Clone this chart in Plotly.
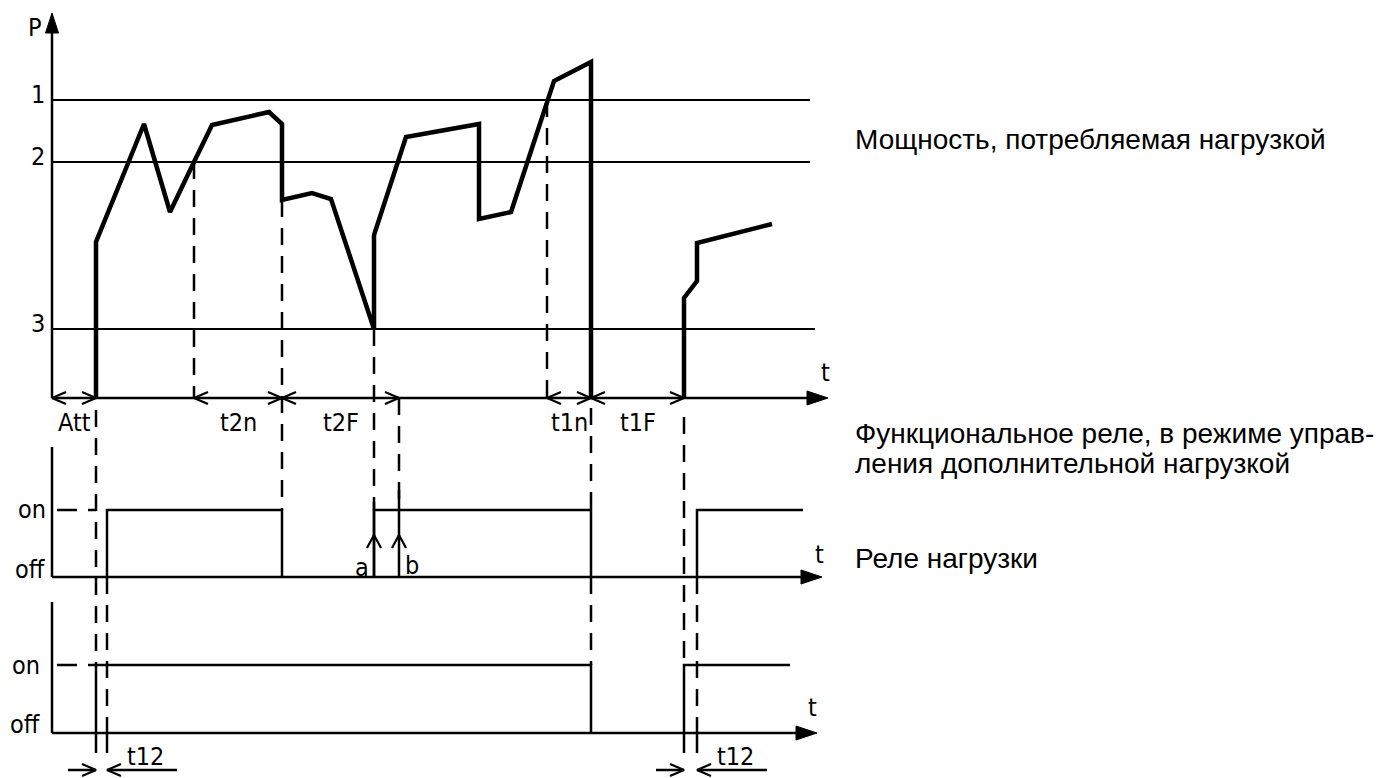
import plotly.graph_objects as go

# ---------------- data (time units, P units) ----------------
# power consumed by the load: two pieces (before and after switch-off)
power_t_a = [44, 44, 92, 118, 142, 160, 217, 230, 230, 260, 279, 322, 322, 354, 427, 427, 459, 495, 502, 539, 539]
power_p_a = [0, 156, 274, 186, 236, 273, 286, 274, 198, 205, 199, 69, 163, 261, 274, 179, 186, 298, 317, 336, 0]
power_t_b = [632, 632, 645, 645, 720]
power_p_b = [0, 100, 117, 155, 174]

level_names = ["1", "2", "3"]
level_values = [298, 236, 69]
level_ends = [758, 758, 763]

# relay on-intervals
relay1_on_start = [55, 322, 645]
relay1_on_end = [230, 539, 751]
relay2_on_start = [44, 632]
relay2_on_end = [539, 738]

# dimensioned intervals on the time axis
dim_names = ["Att", "t2n", "t2F", "t1n", "t1F"]
dim_start = [0, 142, 230, 495, 539]
dim_end = [44, 230, 347, 539, 632]

# events
t_att = 44
t_a = 322
t_b = 347
t12_pairs = [(44, 55), (632, 645)]

right_texts = ["Мощность, потребляемая нагрузкой",
               "Функциональное реле, в режиме управ-",
               "ления дополнительной нагрузкой",
               "Реле нагрузки"]

# ---------------- layout constants ----------------
R1_OFF, R1_ON = -179, -112
R2_OFF, R2_ON = -335, -267
P_TOP = 385
T_END = 776
R1_END, R2_END = 770, 765
R1_TOP, R2_TOP = -49, -204
BOT = -355

DASH = "17px,11px"
BLACK = "black"
FD = "DejaVu Sans Condensed, DejaVu Sans, sans-serif"
FT = "Liberation Sans, Arial, sans-serif"

fig = go.Figure()


def lines(segs, width=2.5, dash=None):
    xs, ys = [], []
    for (x0, y0, x1, y1) in segs:
        xs += [x0, x1, None]
        ys += [y0, y1, None]
    fig.add_trace(go.Scatter(x=xs, y=ys, mode="lines", hoverinfo="skip",
                             line=dict(color=BLACK, width=width, dash=dash)))


def chevrons(items, L=14, W=6, width=2.2):
    # items: (tipx, tipy, dx, dy)
    xs, ys = [], []
    for (x, y, dx, dy) in items:
        nx, ny = -dy, dx
        xs += [x - L * dx + W * nx, x, x - L * dx - W * nx, None]
        ys += [y - L * dy + W * ny, y, y - L * dy - W * ny, None]
    fig.add_trace(go.Scatter(x=xs, y=ys, mode="lines", hoverinfo="skip",
                             line=dict(color=BLACK, width=width)))


def filled_head(x, y, dx, dy, L=20, W=6.5):
    nx, ny = -dy, dx
    xs = [x, x - L * dx + W * nx, x - L * dx - W * nx, x]
    ys = [y, y - L * dy + W * ny, y - L * dy - W * ny, y]
    fig.add_trace(go.Scatter(x=xs, y=ys, mode="lines", fill="toself", fillcolor=BLACK,
                             hoverinfo="skip", line=dict(color=BLACK, width=1)))


# ---- axes ----
lines([(0, 0, 0, P_TOP - 10), (0, 0, T_END - 10, 0),
       (0, R1_OFF, 0, R1_TOP), (0, R1_OFF, R1_END - 10, R1_OFF),
       (0, R2_OFF, 0, R2_TOP), (0, R2_OFF, R2_END - 10, R2_OFF)], width=2.5)
filled_head(0, P_TOP, 0, 1)
filled_head(T_END, 0, 1, 0, L=21, W=7)
filled_head(R1_END, R1_OFF, 1, 0, L=21, W=7)
filled_head(R2_END, R2_OFF, 1, 0, L=21, W=7)

# ---- threshold levels ----
lines([(1, v, e, v) for v, e in zip(level_values, level_ends)], width=2.2)

# ---- dashed extension lines ----
p_after_drop = power_p_a[power_t_a.index(230) + 1]
dashed = [
    (t_att, -12, t_att, R2_ON),
    (t12_pairs[0][1], R1_OFF, t12_pairs[0][1], R2_OFF),
    (142, level_values[1], 142, 0),
    (230, p_after_drop, 230, R1_ON),
    (t_a, level_values[2], t_a, R1_ON),
    (t_b, 0, t_b, R1_ON),
    (495, level_values[0], 495, 0),
    (539, -10, 539, R1_ON),
    (539, R1_OFF, 539, R2_ON),
    (632, -19, 632, R2_ON),
    (t12_pairs[1][1], R1_OFF, t12_pairs[1][1], R2_OFF),
]
lines(dashed, width=2.5, dash=DASH)
# on-level reference dashes
lines([(5, R1_ON, t_att, R1_ON), (5, R2_ON, t_att, R2_ON)], width=2.5, dash="20px,11px")

# ---- power curve ----
for tt, pp in [(power_t_a, power_p_a), (power_t_b, power_p_b)]:
    fig.add_trace(go.Scatter(x=tt, y=pp, mode="lines", hoverinfo="skip",
                             line=dict(color=BLACK, width=4.5)))

# ---- relay waveforms ----
def relay_path(starts, ends, off, on):
    xs, ys = [], []
    for s, e in zip(starts, ends):
        xs += [s, s, e, e, None]
        ys += [off, on, on, off if e < 700 else on, None]
    fig.add_trace(go.Scatter(x=xs, y=ys, mode="lines", hoverinfo="skip",
                             line=dict(color=BLACK, width=2.5)))

relay_path(relay1_on_start, relay1_on_end, R1_OFF, R1_ON)
relay_path(relay2_on_start, relay2_on_end, R2_OFF, R2_ON)

# ---- arrows a and b ----
lines([(t_a, R1_OFF, t_a, R1_ON + 8), (t_b, R1_OFF, t_b, R1_ON + 20)], width=2.5)
chevrons([(t_a, -137, 0, 1), (t_b, -137, 0, 1)], L=13, W=7)

# ---- dimension arrows on time axis ----
items = []
for s, e in zip(dim_start, dim_end):
    items.append((s, 0, -1, 0))
    items.append((e, 0, 1, 0))
chevrons(items)

# ---- t12 dimensions ----
t12_segs, t12_items = [], []
for t0, t1 in t12_pairs:
    t12_segs.append((t0, R2_OFF, t0, BOT))
    t12_segs.append((t1, R2_OFF, t1, BOT))
    t12_segs.append((t0 - 28, -372, t0, -372))
    t12_segs.append((t1, -372, t1 + 70, -372))
    t12_items.append((t0, -372, 1, 0))
    t12_items.append((t1, -372, -1, 0))
lines(t12_segs, width=2.5)
chevrons(t12_items)

# ---------------- text ----------------
ann = []


def txt(x, y, s, size=25, anchor="center", family=FD, yanchor="middle"):
    ann.append(dict(x=x, y=y, xref="x", yref="y", text=s, showarrow=False,
                    xanchor=anchor, yanchor=yanchor, align="left",
                    font=dict(family=family, size=size, color=BLACK)))


txt(-17, 371, "P")
for n, v in zip(level_names, level_values):
    txt(-5, v + 6, n, anchor="right")
for n, s, e in zip(dim_names, dim_start, dim_end):
    txt((s + e) / 2, -24, n)
txt(773, 26, "t")
txt(-4, R1_ON + 1, "on", anchor="right")
txt(-5, R1_OFF + 8, "off", anchor="right")
txt(767, R1_OFF + 23, "t")
txt(-10, R2_ON, "on", anchor="right")
txt(-10, R2_OFF + 9, "off", anchor="right")
txt(760, R2_OFF + 26, "t")
txt(t_a - 12, R1_OFF + 10, "a")
txt(t_b + 13, R1_OFF + 12, "b")
for t0, t1 in t12_pairs:
    txt(t1 + 38, -358, "t12")

txt(801, 259, right_texts[0], size=28, anchor="left", family=FT)
txt(801, -35, right_texts[1], size=28, anchor="left", family=FT)
txt(801, -65, right_texts[2], size=28, anchor="left", family=FT)
txt(801, -160, right_texts[3], size=28, anchor="left", family=FT)

fig.update_layout(
    width=1395, height=778,
    margin=dict(l=0, r=0, t=0, b=0),
    paper_bgcolor="white", plot_bgcolor="white",
    showlegend=False,
    xaxis=dict(range=[-52, 1343], visible=False, fixedrange=True),
    yaxis=dict(range=[-380, 398], visible=False, fixedrange=True),
    annotations=ann,
)

fig.write_html("out.html", post_script="document.body.style.margin='0';",
               config={"displayModeBar": False})
